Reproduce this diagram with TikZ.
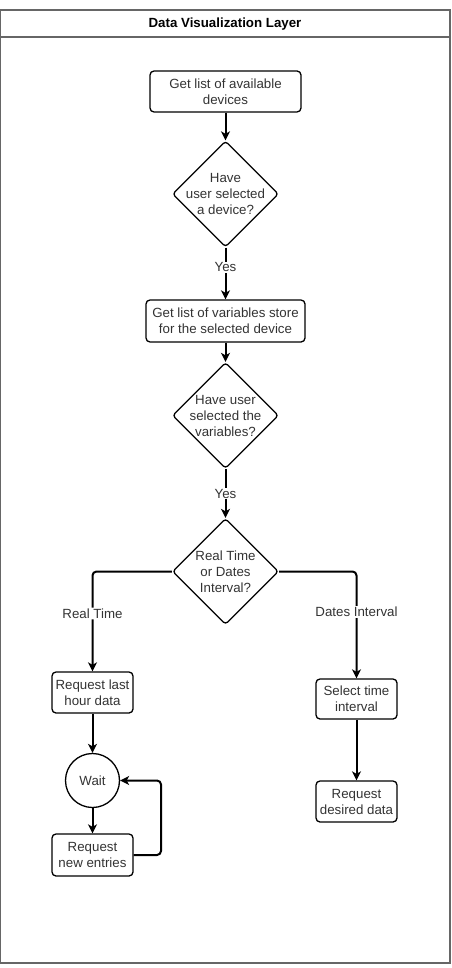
\documentclass[tikz,border=0pt]{standalone}
\usepackage{fontspec}
\setmainfont{Liberation Sans}
\usepackage{tikz}
\usetikzlibrary{arrows.meta,shapes.geometric}
\definecolor{txtgray}{HTML}{333333}
\definecolor{framegray}{HTML}{666666}
\tikzset{>/.tip={Stealth[length=9pt,width=9pt,inset=2.5pt]},
  every node/.style={font=\fontsize{13.3}{16}\selectfont, text=txtgray},
  task/.style={draw, rounded corners=4pt, line width=1.3pt, align=center, inner sep=2pt},
  decision/.style={draw, diamond, aspect=1, rounded corners=3pt, line width=1.3pt, align=center,
    inner sep=-5pt, minimum width=106pt, minimum height=106pt},
  flow/.style={->, line width=2pt},
  lbl/.style={fill=white, inner sep=1pt}}

\begin{document}
\begin{tikzpicture}[x=1pt,y=-1pt]
\useasboundingbox (0,0) rectangle (451,968);
% frame
\draw[framegray, line width=1.2pt] (0.6,10) rectangle (450,963);
\draw[framegray, line width=1.2pt] (0.6,37) -- (450,37);
\node[font=\fontsize{13.3}{16}\selectfont\bfseries, text=black] (title) at (225,24) {Data Visualization Layer};
% steps
\node[task, minimum width=151pt, minimum height=41pt] (devs) at (225.5,91.5) {Get list of available\\devices};
\node[decision] (seldev) at (225.5,194) {Have\\user selected\\a device?};
\node[task, minimum width=159pt, minimum height=42pt] (vars) at (225.5,321) {Get list of variables store\\for the selected device};
\node[decision] (selvar) at (225.5,415.5) {Have user\\selected the\\variables?};
\node[decision] (mode) at (225.5,571.5) {Real Time\\or Dates\\Interval?};
\node[task, minimum width=81pt, minimum height=41pt] (last) at (92.5,692.5) {Request last\\hour data};
\node[circle, draw, line width=1.3pt, minimum size=54pt, inner sep=0pt] (wait) at (92.5,780.5) {Wait};
\node[task, minimum width=81pt, minimum height=42pt] (newent) at (92.5,855) {Request\\new entries};
\node[task, minimum width=81pt, minimum height=40pt] (interval) at (356.5,699) {Select time\\interval};
\node[task, minimum width=81pt, minimum height=41pt] (desired) at (356.5,801.5) {Request\\desired data};
\coordinate (loop) at (161,855);
% connectors
\foreach \a/\b in {devs/seldev, vars/selvar, last/wait, wait/newent, interval/desired}
{
  \draw[flow] (\a) -- (\b);
}
\draw[flow] (seldev) -- node[lbl, pos=0.38] (yes1) {Yes} (vars);
\draw[flow] (selvar) -- node[lbl] (yes2) {Yes} (mode);
\draw[flow, rounded corners=4pt] (mode.west) -| node[lbl, pos=0.71] (rt) {Real Time} (last);
\draw[flow, rounded corners=4pt] (mode.east) -| node[lbl, pos=0.69] (di) {Dates Interval} (interval);
\draw[flow, rounded corners=4pt] (newent.east) -- (loop) |- (wait.east);
\end{tikzpicture}
\end{document}
